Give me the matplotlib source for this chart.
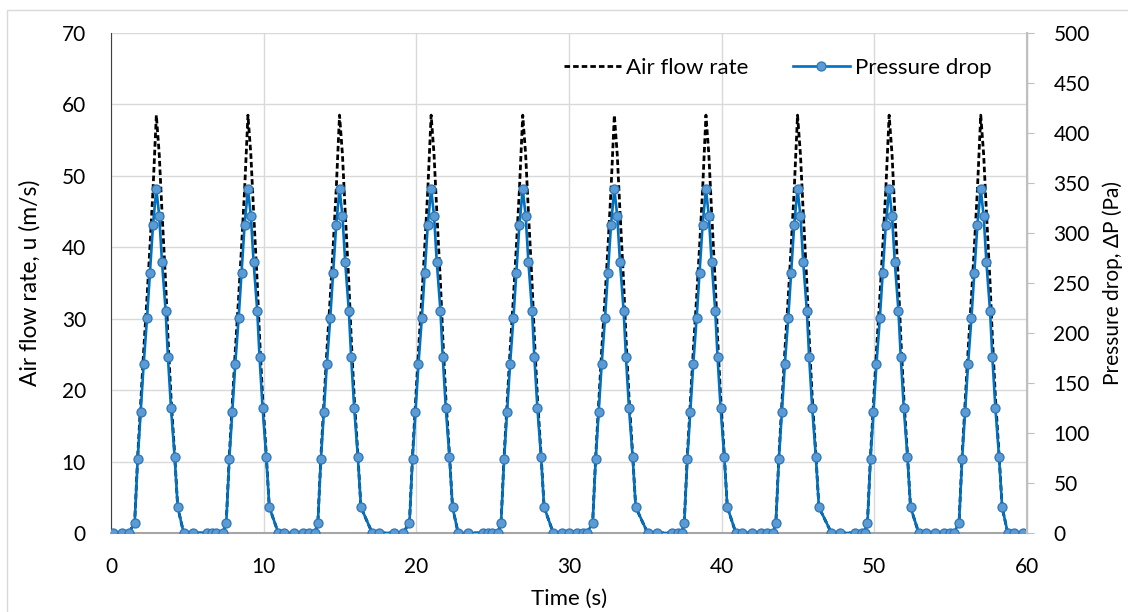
import numpy as np
import matplotlib.pyplot as plt
from matplotlib.patches import Rectangle

# peak times of the ten pulses (s)
peak_times = [3, 9, 15, 21, 27, 33, 39, 45, 51, 57]

# one pulse: time offset from the peak (s),
# pressure drop (Pa) and air flow rate (m/s)
pulse_dt = [-1.45, -1.25, -1.06, -0.86, -0.64, -0.45, -0.25, -0.03,
            0.16, 0.34, 0.58, 0.73, 0.93, 1.17, 1.37]
pulse_dp = [10, 74, 121, 169, 215, 260, 308, 344,
            317, 271, 222, 176, 125, 76, 26]
pulse_u = [1.5, 10.8, 18.0, 25.5, 33.0, 40.0, 48.0, 58.5,
           53.0, 45.0, 35.0, 27.5, 19.0, 11.0, 3.6]

# samples between the pulses where both signals are zero
zero_times = [0.1, 0.74, 1.18, 4.76, 5.37, 6.30, 6.59, 6.90, 7.33,
              10.96, 11.35, 11.96, 12.55, 12.94, 13.36,
              17.11, 17.57, 18.54, 19.14,
              22.74, 23.36, 24.34, 24.71, 24.97, 25.34,
              28.97, 29.54, 29.98, 30.54, 30.90, 31.17,
              35.15, 35.76, 36.76, 37.13, 37.39,
              40.93, 41.34, 41.96, 42.55, 42.98, 43.36,
              47.19, 47.76, 48.74, 49.20, 49.36,
              52.91, 53.37, 53.98, 54.57, 54.94, 55.20,
              58.74, 59.16, 59.77]


def build_series():
    t = list(zero_times)
    dp = [0.0] * len(zero_times)
    u = [0.0] * len(zero_times)
    for tp in peak_times:
        t += [tp + d for d in pulse_dt]
        dp += pulse_dp
        u += pulse_u
    order = np.argsort(t)
    return np.array(t)[order], np.array(dp)[order], np.array(u)[order]


def plot(fig_path):
    t, dp, u = build_series()
    plt.rcParams['font.family'] = ['Lato', 'DejaVu Sans']

    fig = plt.figure(figsize=(11.28, 6.12), dpi=100)
    fig.patches.append(Rectangle((7 / 1128, -0.1), 1.2, 1.1 - 10 / 612,
                                 transform=fig.transFigure, fill=False,
                                 edgecolor='#d9d9d9', lw=1.0))
    ax = fig.add_axes([111 / 1128, 1 - 533 / 612, 916 / 1128, 500 / 612])
    ax2 = ax.twinx()

    l1, = ax.plot(t, u, color='black', ls=(0, (2.0, 1.1)), lw=2.0,
                  label='Air flow rate')
    l2, = ax2.plot(t, dp, color='#0070C0', lw=1.9, marker='o', ms=6.5,
                   mfc='#5B9BD5', mec='#2E75B6', mew=0.9,
                   label='Pressure drop')

    ax.set_xlim(0, 60)
    ax.set_ylim(0, 70)
    ax2.set_ylim(0, 500)
    ax.set_xticks(range(0, 61, 10))
    ax.set_yticks(range(0, 71, 10))
    ax2.set_yticks(range(0, 501, 50))

    ax.grid(True, color='#d9d9d9', lw=1.0)
    ax.set_axisbelow(True)
    for a in (ax, ax2):
        a.spines['top'].set_visible(False)
    ax.spines['left'].set_color('#404040')
    ax.spines['bottom'].set_color('#a6a6a6')
    ax.spines['bottom'].set_linewidth(1.5)
    ax2.spines['right'].set_color('#bfbfbf')
    ax2.spines['right'].set_linewidth(1.5)
    ax2.spines['left'].set_visible(False)
    ax2.spines['bottom'].set_visible(False)

    ax.tick_params(axis='y', length=0, labelsize=15, pad=18)
    ax.tick_params(axis='x', length=0, labelsize=15, pad=17)
    ax2.tick_params(axis='y', length=5, color='#bfbfbf', labelsize=15, pad=14)

    ax.set_xlabel('Time (s)', fontsize=16, labelpad=9)
    ax.set_ylabel('Air flow rate, u (m/s)', fontsize=16.5, labelpad=15)
    ax2.set_ylabel('Pressure drop, \u0394P (Pa)', fontsize=15, labelpad=9)

    ax2.legend(handles=[l1, l2], ncol=2, frameon=False, fontsize=16,
               loc='upper right', bbox_to_anchor=(0.983, 0.99),
               handlelength=2.6, handletextpad=0.2, columnspacing=2.0)

    fig.savefig(fig_path, dpi=100)
    plt.close(fig)


if __name__ == "__main__":
    plot('out.png')
